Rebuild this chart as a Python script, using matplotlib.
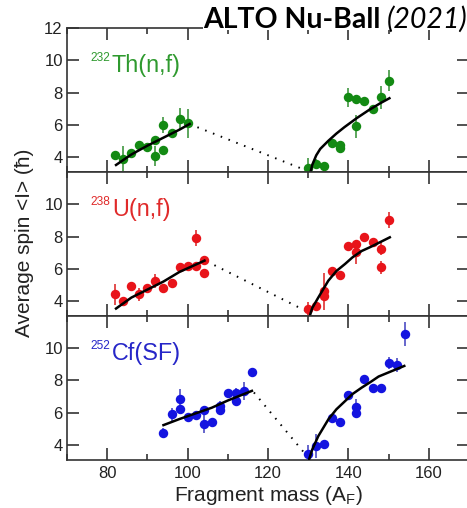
import matplotlib
matplotlib.use('Agg')
import matplotlib.pyplot as plt
from matplotlib.ticker import MultipleLocator, FixedLocator
from matplotlib.patches import Rectangle

plt.rcParams['font.family'] = ['Liberation Sans', 'DejaVu Sans']
plt.rcParams['mathtext.fontset'] = 'custom'
plt.rcParams['mathtext.rm'] = 'Liberation Sans'

# ---------------- data ----------------
# 232Th(n,f)
th_light_m = [82, 84, 86, 88, 90, 92, 92, 94, 94, 96, 98, 100]
th_light_s = [4.1, 3.9, 4.25, 4.75, 4.6, 5.05, 4.05, 6.0, 4.45, 5.5, 6.35, 6.1]
th_light_e = [0.15, 0.75, 0.15, 0.2, 0.15, 0.2, 0.6, 0.5, 0.15, 0.15, 0.7, 0.9]
th_heavy_m = [130, 132, 134, 136, 138, 138, 140, 142, 142, 144, 146, 148, 150]
th_heavy_s = [3.33, 3.55, 3.45, 4.85, 4.75, 4.55, 7.7, 7.6, 5.9, 7.5, 7.0, 7.7, 8.75]
th_heavy_e = [0.6, 0.3, 0.15, 0.2, 0.15, 0.3, 0.6, 0.12, 0.7, 0.15, 0.2, 0.7, 0.65]
th_fitL_m = [82.2, 86, 90, 94, 98, 100.5]
th_fitL_s = [3.5, 4.15, 4.7, 5.2, 5.7, 6.05]
th_fitR_m = [130.6, 131, 132, 133, 135, 137, 139, 142, 145, 148, 150.2]
th_fitR_s = [3.06, 3.5, 4.1, 4.5, 5.0, 5.45, 5.85, 6.4, 6.9, 7.35, 7.65]
th_dot_m = [100.5, 130.3]
th_dot_s = [6.04, 3.08]

# 238U(n,f)
u_light_m = [82, 84, 86, 88, 90, 92, 94, 96, 98, 100, 102, 102, 104, 104]
u_light_s = [4.42, 4.0, 4.9, 4.42, 4.77, 5.22, 4.8, 5.12, 6.08, 6.18, 6.15, 7.88, 6.52, 5.7]
u_light_e = [0.65, 0.2, 0.2, 0.4, 0.15, 0.45, 0.15, 0.15, 0.25, 0.1, 0.15, 0.5, 0.25, 0.1]
u_heavy_m = [130, 132, 134, 134, 136, 138, 140, 142, 142, 144, 146, 148, 148, 150]
u_heavy_s = [3.48, 3.65, 4.3, 4.6, 5.83, 5.62, 7.44, 7.54, 7.02, 7.96, 7.65, 7.23, 6.08, 9.04]
u_heavy_e = [0.45, 0.3, 0.2, 1.15, 0.15, 0.15, 0.1, 0.2, 0.7, 0.2, 0.2, 0.4, 0.42, 0.5]
u_fitL_m = [82.2, 86, 90, 94, 98, 102, 104.2]
u_fitL_s = [3.52, 4.2, 4.7, 5.2, 5.8, 6.25, 6.5]
u_fitR_m = [130.4, 131, 132.5, 135, 137, 139.2, 141, 143.3, 145.5, 147.5, 150.3]
u_fitR_s = [3.06, 3.55, 4.2, 5.25, 5.85, 6.3, 6.7, 7.1, 7.35, 7.6, 7.95]
u_dot_m = [104.8, 130.0]
u_dot_s = [6.45, 3.3]

# 252Cf(SF)
cf_light_m = [94, 96, 98, 98, 100, 102, 104, 104, 106, 108, 108, 110, 112, 112, 114, 116]
cf_light_s = [4.72, 5.9, 6.85, 6.2, 5.73, 5.85, 6.17, 5.32, 5.4, 6.4, 6.15, 7.2, 7.2, 6.72, 7.35, 8.52]
cf_light_e = [0.3, 0.4, 0.6, 0.3, 0.1, 0.15, 0.15, 0.6, 0.1, 0.3, 0.1, 0.15, 0.3, 0.2, 0.55, 0.25]
cf_heavy_m = [130, 132, 134, 136, 138, 140, 142, 142, 144, 146, 148, 150, 152, 154]
cf_heavy_s = [3.45, 3.92, 4.05, 5.64, 5.42, 7.07, 6.36, 5.98, 8.11, 7.55, 7.55, 9.08, 8.95, 10.9]
cf_heavy_e = [0.55, 0.72, 0.12, 0.3, 0.1, 0.25, 0.5, 0.12, 0.12, 0.12, 0.12, 0.35, 0.45, 0.75]
cf_fitL_m = [94, 98, 102, 106, 110, 114, 116]
cf_fitL_s = [5.22, 5.6, 5.95, 6.3, 6.75, 7.15, 7.35]
cf_fitR_m = [130.2, 131, 132.5, 135, 137, 139.2, 141, 143.3, 145.5, 147.5, 150.5, 153.9]
cf_fitR_s = [3.07, 3.7, 4.53, 5.57, 6.2, 6.72, 7.15, 7.55, 7.9, 8.24, 8.55, 8.9]
cf_dot_m = [116.5, 130.0]
cf_dot_s = [7.25, 3.2]

panels = [
    dict(light=(th_light_m, th_light_s, th_light_e), heavy=(th_heavy_m, th_heavy_s, th_heavy_e),
         fitL=(th_fitL_m, th_fitL_s), fitR=(th_fitR_m, th_fitR_s), dot=(th_dot_m, th_dot_s),
         sup='232', name='Th(n,f)', pc='#138a13', ec='#4f9f4f', lc='#2f9a2f'),
    dict(light=(u_light_m, u_light_s, u_light_e), heavy=(u_heavy_m, u_heavy_s, u_heavy_e),
         fitL=(u_fitL_m, u_fitL_s), fitR=(u_fitR_m, u_fitR_s), dot=(u_dot_m, u_dot_s),
         sup='238', name='U(n,f)', pc='#e8141a', ec='#e04040', lc='#e02a2a'),
    dict(light=(cf_light_m, cf_light_s, cf_light_e), heavy=(cf_heavy_m, cf_heavy_s, cf_heavy_e),
         fitL=(cf_fitL_m, cf_fitL_s), fitR=(cf_fitR_m, cf_fitR_s), dot=(cf_dot_m, cf_dot_s),
         sup='252', name='Cf(SF)', pc='#1414e0', ec='#5a5ac8', lc='#2626c8'),
]

# ---------------- figure ----------------
W, H = 467, 508
fig = plt.figure(figsize=(W / 100, H / 100), dpi=100)
left, right = 67 / W, 469 / W
top, bottom = 1 - 28.3 / H, 1 - 460 / H
h = (top - bottom) / 3

spine_c = '#333333'
for i, p in enumerate(panels):
    ax = fig.add_axes([left, top - (i + 1) * h, right - left, h])
    ax.set_xlim(70, 170)
    ax.set_ylim(3.05, 12.0)
    for key in ('light', 'heavy'):
        m, s, e = p[key]
        ax.errorbar(m, s, yerr=e, fmt='o', color=p['pc'], ecolor=p['ec'],
                    elinewidth=1.3, capsize=6.5, capthick=1.3, markersize=6.8,
                    markeredgewidth=0, zorder=3)
    ax.plot(*p['fitL'], color='black', lw=1.8, zorder=4)
    ax.plot(*p['fitR'], color='black', lw=1.8, zorder=4)
    ax.plot(*p['dot'], color='black', lw=1.4, linestyle=(0, (0.8, 3.5)), zorder=2)

    ax.xaxis.set_major_locator(MultipleLocator(20))
    ax.xaxis.set_minor_locator(MultipleLocator(10))
    ax.yaxis.set_major_locator(FixedLocator([4, 6, 8, 10, 12] if i == 0 else [4, 6, 8, 10]))
    ax.tick_params(axis='both', which='both', direction='in', top=True, right=True,
                   color=spine_c, width=1.2, labelsize=12, labelcolor='#222222')
    ax.tick_params(axis='both', which='major', length=8.6)
    ax.tick_params(axis='both', which='minor', length=4.3)
    ax.tick_params(axis='x', pad=4.5)
    ax.tick_params(axis='y', pad=3)
    if i < 2:
        ax.tick_params(axis='x', labelbottom=False)
    for sp in ax.spines.values():
        sp.set_color(spine_c)
        sp.set_linewidth(1.2)

    ax.text(23 / 402, 0.695 + 11 / 144, p['sup'], transform=ax.transAxes,
            fontsize=8.6, color=p['lc'], ha='left', va='baseline')
    ax.text(45 / 402, 0.695, p['name'], transform=ax.transAxes,
            fontsize=16.8, color=p['lc'], ha='left', va='baseline')

# axis labels
fig.text(25 / W, 1 - 243 / H, 'Average spin <I> (ħ)', rotation=90,
         ha='center', va='center', fontsize=15, color='#222222')
fig.text(269 / W, 1 - 501 / H, 'Fragment mass (A$_\\mathregular{F}$)',
         ha='center', va='baseline', fontsize=15, color='#222222')

# title box
fig.patches.append(Rectangle((203 / W, 1 - 29.5 / H), 1 - 203 / W, 29.5 / H,
                             transform=fig.transFigure, facecolor='white',
                             edgecolor='none', zorder=10))
fig.canvas.draw()
r = fig.canvas.get_renderer()
t1 = fig.text(203 / W, 1 - 28 / H, 'ALTO Nu-Ball ', fontsize=20.5, fontweight='bold',
              family=['Lato', 'DejaVu Sans'], ha='left', va='baseline', zorder=11, color='black')
bb = t1.get_window_extent(renderer=r)
t2 = fig.text(bb.x1 / (W), 1 - 28 / H, '(2021)', fontsize=20.5, fontweight='normal',
              fontstyle='italic', family=['Lato', 'DejaVu Sans'], ha='left', va='baseline',
              zorder=11, color='black')

fig.savefig('out.png', dpi=100)
